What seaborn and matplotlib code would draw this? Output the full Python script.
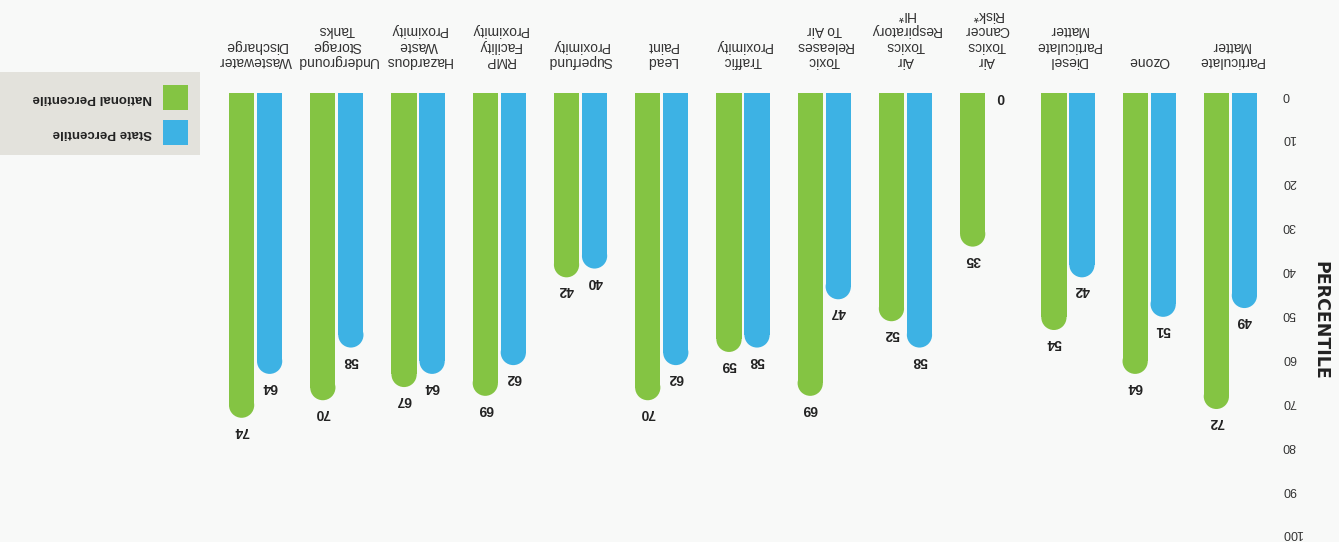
import pandas as pd
import seaborn as sns
import matplotlib.pyplot as plt
from matplotlib.patches import Ellipse, Rectangle

# Chart data (the scan is upside down, so everything is drawn rotated 180 degrees)
categories = ["Particulate\nMatter", "Ozone", "Diesel\nParticulate\nMatter",
              "Air\nToxics\nCancer\nRisk*", "Air\nToxics\nRespiratory\nHI*",
              "Toxic\nReleases\nTo Air", "Traffic\nProximity", "Lead\nPaint",
              "Superfund\nProximity", "RMP\nFacility\nProximity",
              "Hazardous\nWaste\nProximity", "Underground\nStorage\nTanks",
              "Wastewater\nDischarge"]
state_pct = [49, 51, 42, 0, 58, 47, 58, 62, 40, 62, 64, 58, 64]
national_pct = [72, 64, 54, 35, 52, 69, 59, 70, 42, 69, 67, 70, 74]
y_ticks = list(range(0, 101, 10))
series = ["State Percentile", "National Percentile"]
colors = ["#3db2e4", "#84c443"]

df = pd.DataFrame({
    "category": categories * 2,
    "value": state_pct + national_pct,
    "series": [series[0]] * len(categories) + [series[1]] * len(categories),
})

sns.set_style("white")
plt.rcParams["font.family"] = ["Liberation Sans", "DejaVu Sans"]

W, H = 1339, 542
fig = plt.figure(figsize=(W / 100, H / 100), dpi=100, facecolor="#f8f9f8")
ax_left, ax_right, ax_top = 215, 1271, 93
ax = fig.add_axes([ax_left / W, 0, (ax_right - ax_left) / W, (H - ax_top) / H])
ax.set_facecolor("none")

sns.barplot(data=df, x="category", y="value", hue="series", order=categories,
            hue_order=series, palette=colors, width=0.69, gap=0.1,
            linewidth=0, saturation=1, legend=False, ax=ax)

ymax = 102.3
ax.set_xlim(len(categories) - 0.5, -0.5)
ax.set_ylim(ymax, 0)
sns.despine(ax=ax, left=True, bottom=True, right=True, top=True)

# rounded bar ends + value labels
px_x = (ax_right - ax_left) / len(categories)
px_y = (H - ax_top) / ymax
bars = list(ax.patches)
for p in bars:
    h = p.get_height()
    w = p.get_width()
    xc = p.get_x() + w / 2
    r_y = (w * px_x / 2) / px_y
    if h > r_y:
        p.set_height(h - r_y)
        ax.add_patch(Ellipse((xc, h - r_y), w, 2 * r_y,
                             facecolor=p.get_facecolor(), linewidth=0))
    off = -13 if h > 0 else -4
    ax.annotate(f"{h:.0f}", (xc, h), xytext=(0, off), textcoords="offset pixels",
                rotation=180, ha="center", va="center", fontsize=10,
                fontweight="bold", color="#222222")

ax.xaxis.tick_top()
ax.set_xticks(range(len(categories)))
ax.set_xticklabels(categories, rotation=180, fontsize=10, linespacing=1.12,
                   color="#333333")
ax.tick_params(axis="x", length=0, pad=18)
ax.yaxis.tick_right()
ax.set_yticks(y_ticks)
ax.set_yticklabels([str(t) for t in y_ticks], rotation=180, fontsize=9,
                   color="#333333")
ax.tick_params(axis="y", length=0, pad=8)
ax.set_xlabel("")
ax.set_ylabel("")

fig.text(1320 / W, 1 - 320 / H, "PERCENTILE", rotation=270, ha="center",
         va="center", fontsize=12.5, fontweight="bold", color="#222222",
         family=["Liberation Sans Narrow", "DejaVu Sans"])

# legend box
fig.patches.append(Rectangle((0, 1 - 155 / H), 200 / W, 83 / H, facecolor="#e3e2dc",
                             edgecolor="none", transform=fig.transFigure))
legend_rows = [(series[1], colors[1], 85), (series[0], colors[0], 120)]
for label, col, top in legend_rows:
    fig.patches.append(Rectangle((163 / W, 1 - (top + 25) / H), 25 / W, 25 / H,
                                 facecolor=col, edgecolor="none",
                                 transform=fig.transFigure))
    fig.text(152 / W, 1 - (top + 12.5) / H, label, rotation=180, ha="right",
             va="center", fontsize=9.5, fontweight="bold", color="#222222")

fig.savefig("out.png", dpi=100, facecolor=fig.get_facecolor())
